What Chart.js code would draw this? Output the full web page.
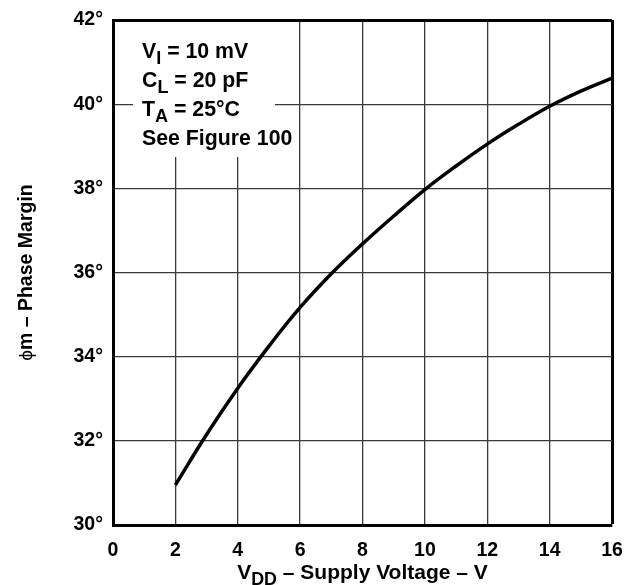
<!DOCTYPE html>
<html>
<head>
<meta charset="utf-8">
<script src="https://cdn.jsdelivr.net/npm/chart.js@4"></script>
<style>
  body { margin: 0; background: #fff; }
  canvas { display: block; }
</style>
</head>
<body>
<canvas id="pmChart" width="626" height="585"></canvas>
<script>
// data
const supplyVoltage = [2, 3, 4, 5, 6, 7, 8, 9, 10, 11, 12, 13, 14, 15, 16];
const phaseMargin = [30.95, 32.15, 33.25, 34.25, 35.17, 35.97, 36.68, 37.34, 37.97, 38.53, 39.05, 39.52, 39.95, 40.31, 40.62];
const xTicks = [0, 2, 4, 6, 8, 10, 12, 14, 16];
const yTicks = [30, 32, 34, 36, 38, 40, 42];
const noteLines = [
    [['V', false], ['I', true], [' = 10 mV', false]],
    [['C', false], ['L', true], [' = 20 pF', false]],
    [['T', false], ['A', true], [' = 25°C', false]],
    [['See Figure 100', false]]
];

const FONT = '"Liberation Sans", Arial, Helvetica, sans-serif';

// draws text with subscript pieces, returns width
function drawParts(ctx, x, y, parts, size, measureOnly) {
    let cx = x;
    parts.forEach(([txt, sub]) => {
        const s = sub ? size * 0.85 : size;
        ctx.font = 'bold ' + s + 'px ' + FONT;
        if (!measureOnly) ctx.fillText(txt, cx, sub ? y + size * 0.3 : y);
        cx += ctx.measureText(txt).width;
    });
    return cx - x;
}

const decorations = {
    id: 'decorations',
    afterDraw(chart) {
        const ctx = chart.ctx;
        const area = chart.chartArea;
        ctx.save();
        ctx.textBaseline = 'alphabetic';
        ctx.textAlign = 'left';

        // conditions box
        ctx.fillStyle = '#fff';
        ctx.fillRect(133, area.top + 2, 142, 135);
        ctx.fillStyle = '#000';
        noteLines.forEach((line, i) => {
            drawParts(ctx, 142, 58 + i * 29, line, 21.3);
        });

        // x axis title
        const xTitle = [['V', false], ['DD', true], [' – Supply Voltage – V', false]];
        const w = drawParts(ctx, 0, 0, xTitle, 21, true);
        drawParts(ctx, (area.left + area.right) / 2 - w / 2, 579, xTitle, 21);

        // y axis title (rotated)
        ctx.translate(32, (area.top + area.bottom) / 2);
        ctx.rotate(-Math.PI / 2);
        ctx.font = '19px ' + FONT;
        const phiW = ctx.measureText('ϕ').width;
        ctx.font = 'bold 19.5px ' + FONT;
        const restW = ctx.measureText('m – Phase Margin').width;
        const start = -(phiW + restW) / 2;
        ctx.font = '19px ' + FONT;
        ctx.fillText('ϕ', start, 0);
        ctx.font = 'bold 19.5px ' + FONT;
        ctx.fillText('m – Phase Margin', start + phiW, 0);
        ctx.restore();
    }
};

const gridColor = (ctx, edge) => ctx.tick && ctx.tick.value === edge ? '#000' : '#3a3a3a';
const gridWidth = (ctx, edge) => ctx.tick && ctx.tick.value === edge ? 3 : 1.3;

new Chart(document.getElementById('pmChart'), {
    type: 'scatter',
    data: {
        datasets: [{
            data: supplyVoltage.map((v, i) => ({ x: v, y: phaseMargin[i] })),
            showLine: true,
            borderColor: '#000',
            borderWidth: 3.5,
            pointRadius: 0,
            tension: 0.4
        }]
    },
    options: {
        responsive: false,
        animation: false,
        layout: { padding: { top: 20, right: 14, left: 0, bottom: 0 } },
        plugins: { legend: { display: false }, tooltip: { enabled: false } },
        scales: {
            x: {
                type: 'linear',
                min: 0,
                max: 16,
                afterBuildTicks: s => { s.ticks = xTicks.map(v => ({ value: v })); },
                afterFit: s => { s.height = 60; s.paddingLeft = 0; s.paddingRight = 0; },
                grid: {
                    drawTicks: false,
                    color: c => gridColor(c, 16),
                    lineWidth: c => gridWidth(c, 16)
                },
                border: { color: '#000', width: 3 },
                ticks: {
                    padding: 14,
                    color: '#000',
                    font: { family: FONT, size: 19.5, weight: 'bold' }
                }
            },
            y: {
                min: 30,
                max: 42,
                afterBuildTicks: s => { s.ticks = yTicks.map(v => ({ value: v })); },
                afterFit: s => { s.width = 113; s.paddingTop = 0; s.paddingBottom = 0; },
                grid: {
                    drawTicks: false,
                    color: c => gridColor(c, 42),
                    lineWidth: c => gridWidth(c, 42)
                },
                border: { color: '#000', width: 3 },
                ticks: {
                    padding: 10,
                    color: '#000',
                    font: { family: FONT, size: 19.5, weight: 'bold' },
                    callback: v => v + '°'
                }
            }
        }
    },
    plugins: [decorations]
});
</script>
</body>
</html>
